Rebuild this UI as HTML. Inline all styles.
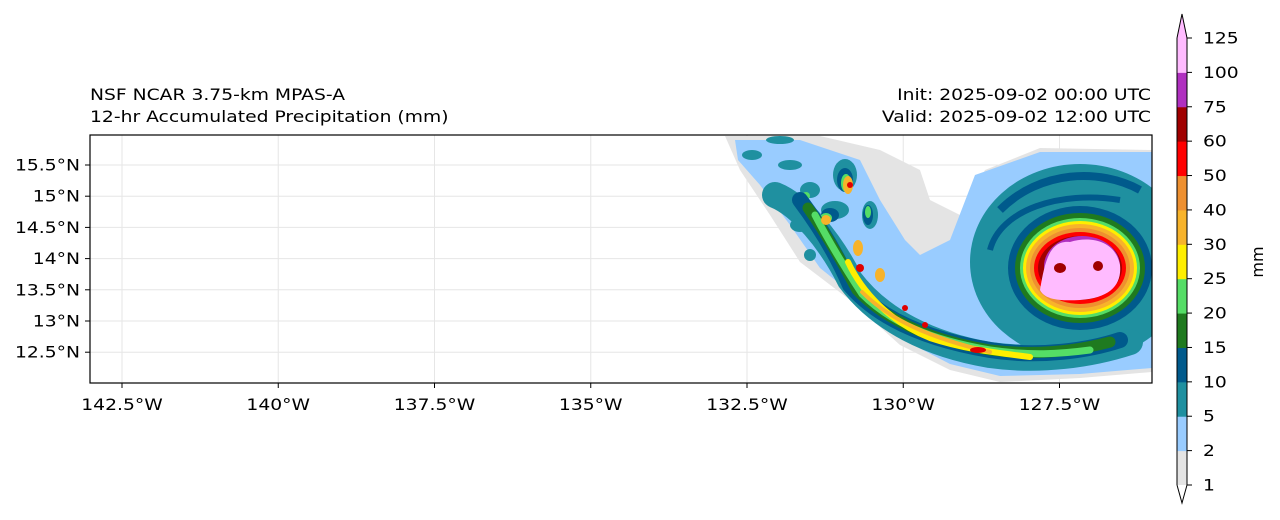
<!DOCTYPE html>
<html><head><meta charset="utf-8"><style>
html,body{margin:0;padding:0;background:#fff;}
svg{display:block;font-family:"DejaVu Sans","Liberation Sans",sans-serif;}
</style></head><body>
<svg id="chart" width="1280" height="520" viewBox="0 0 1280 520" xmlns="http://www.w3.org/2000/svg">
<defs><clipPath id="plotclip"><rect x="90" y="135" width="1062" height="248"/></clipPath></defs>
<g id="grid"></g>
<g id="field" clip-path="url(#plotclip)">
  <path d="M725,136 L820,136 L880,150 L920,170 L930,200 L960,215 L985,170 L1040,148 L1152,150 L1152,372 L1080,378 L1000,382 L950,370 L900,345 L850,300 L800,262 L770,215 L740,170 Z" fill="#e4e4e4"/>
  <path d="M735,140 L800,140 L860,160 L880,200 L905,240 L920,255 L950,240 L975,175 L1040,152 L1152,152 L1152,368 L1080,374 L1000,376 L950,364 L900,338 L860,300 L820,268 L790,225 L760,185 L738,160 Z" fill="#99ccff"/>
  <ellipse cx="1080" cy="262" rx="110" ry="98" fill="#1f90a0"/>
  <path d="M775,195 C800,205 830,240 850,280 C880,320 930,345 990,355 C1040,362 1090,355 1130,342" fill="none" stroke="#1f90a0" stroke-width="26" stroke-linecap="round"/>
  <g fill="#1f90a0"><ellipse cx="752" cy="155" rx="10" ry="5"/><ellipse cx="790" cy="165" rx="12" ry="5"/><ellipse cx="810" cy="190" rx="10" ry="8"/><ellipse cx="835" cy="210" rx="14" ry="9"/><ellipse cx="800" cy="225" rx="10" ry="7"/><ellipse cx="870" cy="215" rx="8" ry="14"/><ellipse cx="845" cy="175" rx="12" ry="16"/><ellipse cx="780" cy="140" rx="14" ry="4"/><ellipse cx="810" cy="255" rx="6" ry="6"/></g>
  <g fill="#005a8c"><ellipse cx="845" cy="180" rx="8" ry="12"/><ellipse cx="830" cy="215" rx="9" ry="7"/><ellipse cx="868" cy="215" rx="5" ry="10"/></g>
  <g fill="#55dd66"><ellipse cx="846" cy="183" rx="5" ry="9"/><ellipse cx="826" cy="218" rx="6" ry="5"/><ellipse cx="806" cy="196" rx="4" ry="4"/><ellipse cx="868" cy="212" rx="3" ry="6"/></g>
  <path d="M1000,210 C1040,170 1100,168 1140,190" fill="none" stroke="#005a8c" stroke-width="8"/>
  <path d="M990,250 C1000,210 1060,190 1120,200" fill="none" stroke="#005a8c" stroke-width="6"/>
  <path d="M800,200 C815,220 835,250 850,285 C880,320 930,340 990,350 C1040,358 1090,350 1120,340" fill="none" stroke="#005a8c" stroke-width="16" stroke-linecap="round"/>
  <path d="M808,208 C822,228 840,258 857,290 C885,320 930,340 990,350 C1040,356 1080,350 1110,342" fill="none" stroke="#1f7a1f" stroke-width="11" stroke-linecap="round"/>
  <path d="M815,215 C828,240 843,265 862,294 C890,322 930,340 990,350 C1030,356 1060,354 1090,350" fill="none" stroke="#55dd66" stroke-width="7" stroke-linecap="round"/>
  <path d="M848,262 C862,292 890,322 930,338 C960,348 990,352 1030,357" fill="none" stroke="#ffee00" stroke-width="6" stroke-linecap="round"/>
  <path d="M862,292 C890,320 930,338 990,352" fill="none" stroke="#f7b32b" stroke-width="4" stroke-linecap="round"/>
  <g fill="#f7b32b"><ellipse cx="848" cy="185" rx="5" ry="9"/><ellipse cx="826" cy="220" rx="5" ry="5"/><ellipse cx="858" cy="248" rx="5" ry="8"/><ellipse cx="880" cy="275" rx="5" ry="7"/></g>
  <g fill="#e00000"><circle cx="850" cy="185" r="3"/><circle cx="860" cy="268" r="4"/><circle cx="905" cy="308" r="3"/><circle cx="925" cy="325" r="3"/><ellipse cx="978" cy="350" rx="8" ry="3"/></g>
  <ellipse cx="1080" cy="268" rx="72" ry="62" fill="#005a8c"/>
  <ellipse cx="1080" cy="268" rx="65" ry="55" fill="#1f7a1f"/>
  <ellipse cx="1080" cy="268" rx="60" ry="50" fill="#55dd66"/>
  <ellipse cx="1080" cy="268" rx="57" ry="47" fill="#ffee00"/>
  <ellipse cx="1080" cy="268" rx="54" ry="44" fill="#f7b32b"/>
  <ellipse cx="1080" cy="268" rx="50" ry="40" fill="#ee9030"/>
  <ellipse cx="1080" cy="268" rx="46" ry="36" fill="#ff0000"/>
  <ellipse cx="1080" cy="268" rx="42" ry="32" fill="#a00000"/>
  <ellipse cx="1082" cy="266" rx="38" ry="30" fill="#b030c0"/>
  <path d="M1040,290 C1045,260 1050,240 1070,242 C1090,236 1115,240 1120,265 C1122,285 1110,298 1080,300 C1060,301 1045,300 1040,290 Z" fill="#ffbbff"/>
  <ellipse cx="1060" cy="268" rx="6" ry="5" fill="#a00000"/><ellipse cx="1098" cy="266" rx="5" ry="5" fill="#a00000"/>
</g>
<rect x="90" y="135" width="1062" height="248" fill="none" stroke="#000" stroke-width="1.2"/>
<g id="axes" font-size="16" fill="#000"></g>
<text class="fit" x="90" y="100" font-size="16">NSF NCAR 3.75-km MPAS-A</text>
<text class="fit" x="90" y="122" font-size="16">12-hr Accumulated Precipitation (mm)</text>
<text class="fit" x="1151" y="100" font-size="16" text-anchor="end">Init: 2025-09-02 00:00 UTC</text>
<text class="fit" x="1151" y="122" font-size="16" text-anchor="end">Valid: 2025-09-02 12:00 UTC</text>
<g id="cbar"></g>
<text x="0" y="0" font-size="16" transform="translate(1263,262) rotate(-90)" text-anchor="middle">mm</text>
</svg>
<script>
const lonTicks=[-142.5,-140,-137.5,-135,-132.5,-130,-127.5];
const lonLabels=["142.5°W","140°W","137.5°W","135°W","132.5°W","130°W","127.5°W"];
const latTicks=[15.5,15,14.5,14,13.5,13,12.5];
const latLabels=["15.5°N","15°N","14.5°N","14°N","13.5°N","13°N","12.5°N"];
const cbLevels=["1","2","5","10","15","20","25","30","40","50","60","75","100","125"];
const cbColors=["#e4e4e4","#99ccff","#1f90a0","#005a8c","#1f7a1f","#55dd66","#ffee00","#f7b32b","#ee9030","#ff0000","#a00000","#b030c0","#ffbbff"];
const NS="http://www.w3.org/2000/svg";
const xLon=v=>122+(v+142.5)*62.5;
const yLat=v=>165+(15.5-v)*62.4;
const cbY=i=>485-i*(447/13);
function mk(t,a,p){const e=document.createElementNS(NS,t);for(const k in a)e.setAttribute(k,a[k]);p.appendChild(e);return e;}
const grid=document.getElementById('grid'),axes=document.getElementById('axes'),cb=document.getElementById('cbar');
lonTicks.forEach((v,i)=>{const x=xLon(v);
 const g=mk('line',{x1:x,x2:x,y1:135,y2:383,stroke:'#e6e6e6','stroke-width':1},grid);
 
 
 mk('line',{x1:x,x2:x,y1:383,y2:388,stroke:'#000'},axes);
 const t=mk('text',{x:x,y:410,'text-anchor':'middle',class:'fit'},axes);t.textContent=lonLabels[i];
 
 });
latTicks.forEach((v,i)=>{const y=yLat(v);
 const g=mk('line',{x1:90,x2:1152,y1:y,y2:y,stroke:'#e6e6e6','stroke-width':1},grid);
 
 
 mk('line',{x1:85,x2:90,y1:y,y2:y,stroke:'#000'},axes);
 const t=mk('text',{x:80,y:y+5.5,'text-anchor':'end',class:'fit'},axes);t.textContent=latLabels[i];
 
 });
cbColors.forEach((c,i)=>{const r=mk('rect',{x:1177,y:cbY(i+1),width:10,height:cbY(i)-cbY(i+1)+0.5,fill:c},cb);
 
 });
mk('path',{d:`M1177,${cbY(13)} L1182,14 L1187,${cbY(13)}`,fill:'#ffbbff',stroke:'#000'},cb);
mk('path',{d:`M1177,${cbY(0)} L1182,503 L1187,${cbY(0)}`,fill:'#fff',stroke:'#000'},cb);
mk('path',{d:`M1177,${cbY(0)} L1177,${cbY(13)} M1187,${cbY(0)} L1187,${cbY(13)}`,stroke:'#000',fill:'none'},cb);
cbLevels.forEach((l,i)=>{const y=cbY(i);
 mk('line',{x1:1187,x2:1192,y1:y,y2:y,stroke:'#000'},cb);
 const t=mk('text',{x:1203,y:y+5.5,'font-size':16,class:'fit'},cb);t.textContent=l;
 
 });
document.querySelectorAll('text.fit').forEach(t=>{const w=t.getComputedTextLength();if(w>0){t.setAttribute('textLength',(w*1.17).toFixed(1));t.setAttribute('lengthAdjust','spacingAndGlyphs');}});
</script>
</body></html>
